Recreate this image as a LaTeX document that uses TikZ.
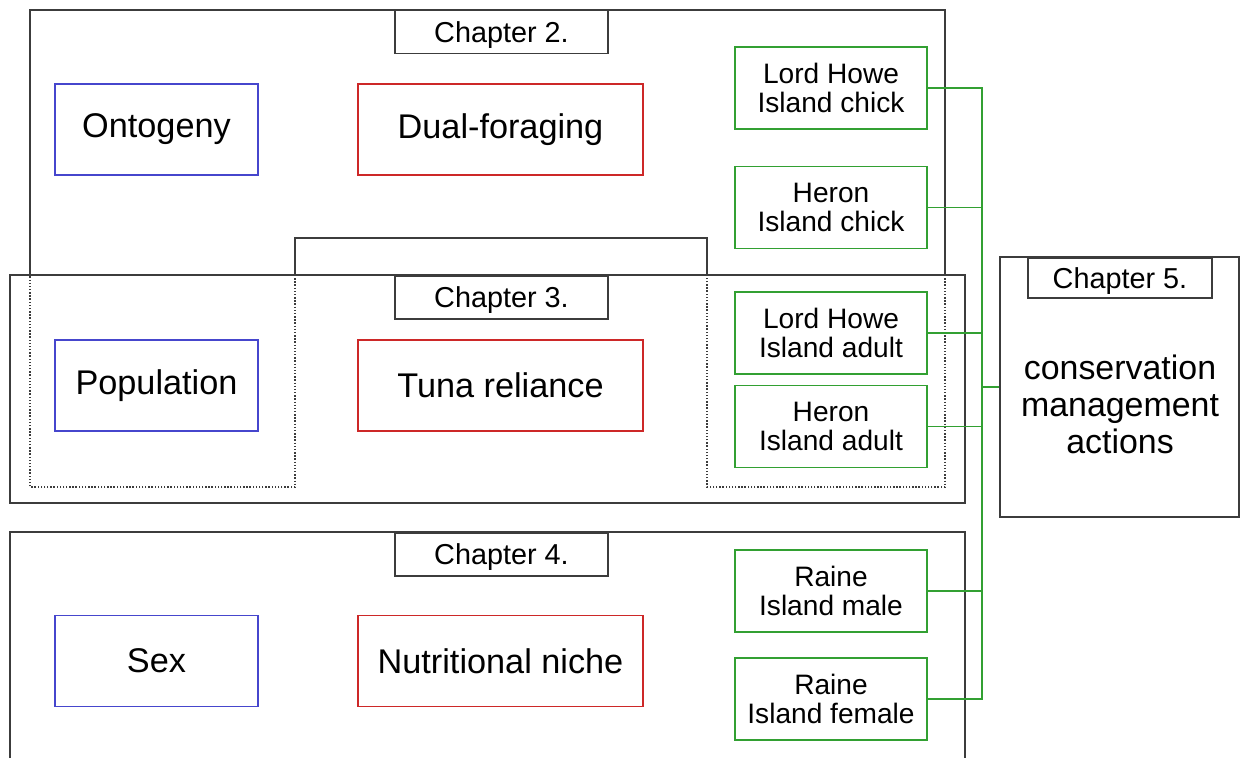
\documentclass[tikz,border=0pt]{standalone}
\usepackage{fontspec}
\setmainfont{Liberation Sans}
\definecolor{boxblue}{RGB}{70,70,205}
\definecolor{boxred}{RGB}{205,40,40}
\definecolor{boxgreen}{RGB}{50,160,50}
\definecolor{outline}{RGB}{60,60,60}
\tikzset{
  topic/.style={draw=boxblue, line width=0.8pt, minimum width=4.06cm, minimum height=1.82cm, font=\fontsize{19.5}{23}\selectfont},
  theme/.style={draw=boxred, line width=0.8pt, minimum width=5.7cm, minimum height=1.82cm, font=\fontsize{19.5}{23}\selectfont},
  group/.style={draw=boxgreen, line width=0.8pt, minimum width=3.84cm, minimum height=1.64cm, align=center, font=\fontsize{16}{16.5}\selectfont},
  chaplabel/.style={draw=outline, fill=white, line width=0.8pt, minimum width=4.26cm, minimum height=0.86cm, text depth=0pt, font=\fontsize{16.4}{18}\selectfont},
  link/.style={boxgreen, line width=0.8pt}
}
\begin{document}
\begin{tikzpicture}[x=0.02cm, y=-0.02cm]
\useasboundingbox (0,0) rectangle (1240,758);
% Chapter 2 outline, dotted where it overlaps Chapter 3
\draw[outline, line width=0.8pt] (30,275) -- (30,10) -- (945,10) -- (945,275);
\draw[outline, line width=0.8pt] (295,275) -- (295,238) -- (707,238) -- (707,275);
\draw[outline, line width=0.8pt, densely dotted] (945,275) -- (945,487) -- (707,487) -- (707,275);
\draw[outline, line width=0.8pt, densely dotted] (295,275) -- (295,487) -- (30,487) -- (30,275);
% Chapter 3 and 4 frames
\draw[outline, line width=0.8pt] (10,275) rectangle (965,503);
\draw[outline, line width=0.8pt] (10,758) -- (10,532) -- (965,532) -- (965,758);

\node[chaplabel] (Chapter 2) at (501.5,32) {Chapter 2.};
\node[chaplabel] (Chapter 3) at (501.5,297.5) {Chapter 3.};
\node[chaplabel] (Chapter 4) at (501.5,554.5) {Chapter 4.};

\node[topic] (Ontogeny) at (156.5,129.5) {Ontogeny};
\node[topic] (Population) at (156.5,385.5) {Population};
\node[topic] (Sex) at (156.5,661) {Sex};

\node[theme] (Dual) at (500.5,129.5) {Dual-foraging};
\node[theme] (Tuna) at (500.5,385.5) {Tuna reliance};
\node[theme] (Niche) at (500.5,661) {Nutritional niche};

\node[group] (LHI chick) at (831,88) {Lord Howe\\Island chick};
\node[group] (HI chick) at (831,207.5) {Heron\\Island chick};
\node[group] (LHI adult) at (831,333) {Lord Howe\\Island adult};
\node[group] (HI adult) at (831,426.5) {Heron\\Island adult};
\node[group] (RI male) at (831,591) {Raine\\Island male};
\node[group] (RI female) at (831,699) {Raine\\Island female};

% Chapter 5
\node[draw=outline, line width=0.8pt, minimum width=4.78cm, minimum height=5.2cm] (Chapter 5) at (1119.5,387) {};
\node[chaplabel, minimum width=3.68cm, minimum height=0.8cm] (Chapter 5 label) at (1120,278) {Chapter 5.};
\node[align=center, font=\fontsize{19.3}{21}\selectfont] (Actions) at (1120,404) {conservation\\management\\actions};

\coordinate (hub) at (982,387);
\draw[link] (LHI chick.east) -| (hub);
\draw[link] (HI chick.east) -| (hub);
\draw[link] (LHI adult.east) -| (hub);
\draw[link] (HI adult.east) -| (hub);
\draw[link] (RI male.east) -| (hub);
\draw[link] (RI female.east) -| (hub);
\draw[link] (hub) -- (Chapter 5.west);

\end{tikzpicture}
\end{document}
